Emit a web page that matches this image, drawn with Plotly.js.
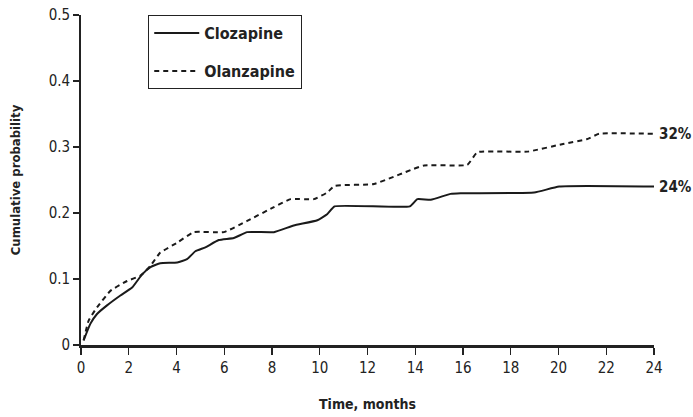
<!DOCTYPE html>
<html>
<head>
<meta charset="utf-8">
<script src="https://cdn.plot.ly/plotly-3.0.1.min.js"></script>
<style>html,body{margin:0;padding:0;background:#fff;}#chart{width:693px;height:417px;}</style>
</head>
<body>
<div id="chart"></div>
<script>
const FONT = '"DejaVu Sans Condensed", "Liberation Sans Narrow", Arial, sans-serif';

const clozMonths = [0.11, 0.39, 0.67, 1.09, 1.65, 2.14, 2.56, 2.91, 3.32, 4.03, 4.44, 4.79, 5.21, 5.77, 6.40, 6.96, 8.08, 8.91, 9.90, 10.31, 10.62, 13.77, 14.09, 14.65, 15.48, 15.90, 18.98, 20.03, 24.0];
const clozValues = [0.007, 0.032, 0.047, 0.060, 0.075, 0.087, 0.107, 0.118, 0.124, 0.125, 0.130, 0.142, 0.148, 0.159, 0.162, 0.171, 0.171, 0.181, 0.189, 0.198, 0.210, 0.210, 0.221, 0.220, 0.229, 0.230, 0.231, 0.240, 0.240];

const olanMonths = [0.11, 0.32, 0.67, 1.23, 1.93, 2.49, 2.91, 3.32, 4.03, 4.72, 5.98, 6.96, 8.08, 8.78, 9.75, 10.31, 10.62, 12.27, 14.37, 16.18, 16.60, 18.70, 20.24, 21.20, 21.70, 24.0];
const olanValues = [0.007, 0.037, 0.057, 0.082, 0.097, 0.105, 0.120, 0.140, 0.155, 0.171, 0.171, 0.188, 0.209, 0.221, 0.221, 0.231, 0.241, 0.244, 0.272, 0.273, 0.292, 0.293, 0.305, 0.312, 0.320, 0.320];

const seriesNames = ['Clozapine', 'Olanzapine'];
const endLabels = ['24%', '32%'];
const xTicks = [0, 2, 4, 6, 8, 10, 12, 14, 16, 18, 20, 22, 24];
const yTicks = [0, 0.1, 0.2, 0.3, 0.4, 0.5];
const yTickText = ['0', '0.1', '0.2', '0.3', '0.4', '0.5'];

const traces = [
  {x: clozMonths, y: clozValues, name: seriesNames[0], legendgroup: 'a', type: 'scatter', mode: 'lines',
   line: {color: '#1a1a1a', width: 2, shape: 'spline', smoothing: 0.4}},
  {x: olanMonths, y: olanValues, name: seriesNames[1], legendgroup: 'b', type: 'scatter', mode: 'lines',
   line: {color: '#1a1a1a', width: 2, dash: '5px,4px', shape: 'spline', smoothing: 0.4}}
];

const layout = {
  width: 693, height: 417,
  margin: {l: 81, r: 39, t: 15, b: 72},
  paper_bgcolor: '#fff', plot_bgcolor: '#fff',
  font: {family: FONT, color: '#222', size: 14},
  showlegend: true,
  legend: {x: 0.117, y: 1.0, xanchor: 'left', yanchor: 'top',
    bgcolor: '#fff', bordercolor: '#222', borderwidth: 1.2,
    font: {family: FONT, size: 16, color: '#222', weight: 'bold'},
    itemwidth: 45, tracegroupgap: 14},
  xaxis: {range: [0, 24], tickvals: xTicks, ticks: 'outside', ticklen: 7, tickwidth: 1.2, tickcolor: '#222',
    showline: true, linecolor: '#222', linewidth: 2.5, showgrid: false, zeroline: false,
    tickfont: {family: FONT, size: 15, color: '#222'},
    title: {text: 'Time, months', font: {family: FONT, size: 14, color: '#222', weight: 'bold'}, standoff: 24}},
  yaxis: {range: [0, 0.5], tickvals: yTicks, ticktext: yTickText, ticks: 'outside', ticklen: 6, tickwidth: 1.2, tickcolor: '#222',
    showline: true, linecolor: '#222', linewidth: 1.8, showgrid: false, zeroline: false,
    tickfont: {family: FONT, size: 15, color: '#222'},
    title: {text: 'Cumulative probability', font: {family: FONT, size: 13, color: '#222', weight: 'bold'}, standoff: 25}},
  annotations: [
    {x: 24, y: clozValues[clozValues.length - 1], xref: 'x', yref: 'y', text: '<b>' + endLabels[0] + '</b>',
     showarrow: false, xanchor: 'left', xshift: 3, font: {family: FONT, size: 15, color: '#222'}},
    {x: 24, y: olanValues[olanValues.length - 1], xref: 'x', yref: 'y', text: '<b>' + endLabels[1] + '</b>',
     showarrow: false, xanchor: 'left', xshift: 3, font: {family: FONT, size: 15, color: '#222'}}
  ]
};

Plotly.newPlot('chart', traces, layout, {displayModeBar: false, staticPlot: true});
</script>
</body>
</html>
